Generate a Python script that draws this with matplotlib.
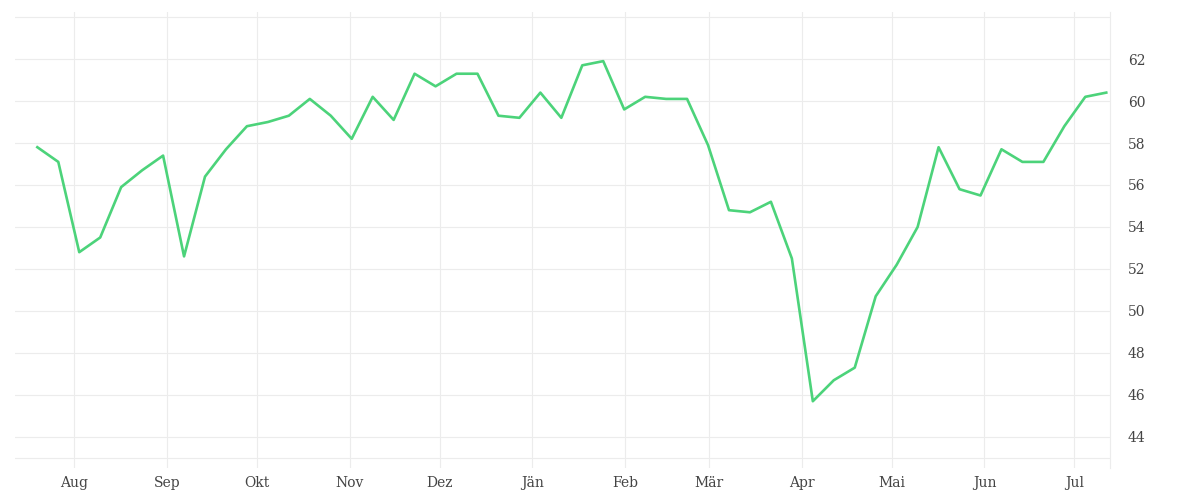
import matplotlib
matplotlib.use("Agg")
import matplotlib.pyplot as plt
import pandas as pd

# weekly values
start_date = "2021-07-19 16:00"
values = [
    57.8, 57.1, 52.8, 53.5, 55.9, 56.7, 57.4, 52.6, 56.4, 57.7,
    58.8, 59.0, 59.3, 60.1, 59.3, 58.2, 60.2, 59.1, 61.3, 60.7,
    61.3, 61.3, 59.3, 59.2, 60.4, 59.2, 61.7, 61.9, 59.6, 60.2,
    60.1, 60.1, 57.9, 54.8, 54.7, 55.2, 52.5, 45.7, 46.7, 47.3,
    50.7, 52.2, 54.0, 57.8, 55.8, 55.5, 57.7, 57.1, 57.1, 58.8,
    60.2, 60.4,
]
dates = pd.date_range(start_date, periods=len(values), freq="7D")

month_ticks = pd.date_range("2021-08-01", "2022-07-01", freq="MS")
month_labels = ["Aug", "Sep", "Okt", "Nov", "Dez", "Jän", "Feb", "Mär",
                "Apr", "Mai", "Jun", "Jul"]
y_ticks = [44, 46, 48, 50, 52, 54, 56, 58, 60, 62]

grid_color = "#ececec"

fig = plt.figure(figsize=(12, 5), dpi=100)
ax = fig.add_axes([15 / 1200, 32 / 500, 1095 / 1200, 456 / 500])

ax.plot(dates, values, color="#4cd37a", linewidth=1.9, zorder=3)

ax.set_xlim(pd.Timestamp("2021-07-12 05:00"), pd.Timestamp("2022-07-12 22:00"))
ax.set_ylim(42.52, 64.24)

ax.set_xticks(month_ticks)
ax.set_xticklabels(month_labels)
ax.set_yticks(y_ticks)

ax.yaxis.tick_right()
ax.tick_params(axis="both", length=0, labelsize=10, labelcolor="#444444")
ax.tick_params(axis="x", pad=6)
ax.tick_params(axis="y", pad=13)
for lab in ax.get_xticklabels() + ax.get_yticklabels():
    lab.set_fontfamily("DejaVu Serif")

ax.grid(True, color=grid_color, linewidth=0.8, zorder=0)
for yv in [43, 64]:
    ax.axhline(yv, color=grid_color, linewidth=0.8, zorder=0)

for side in ["top", "left", "bottom"]:
    ax.spines[side].set_visible(False)
ax.spines["right"].set_color(grid_color)
ax.spines["right"].set_linewidth(0.8)

fig.savefig("out.png", dpi=100)
